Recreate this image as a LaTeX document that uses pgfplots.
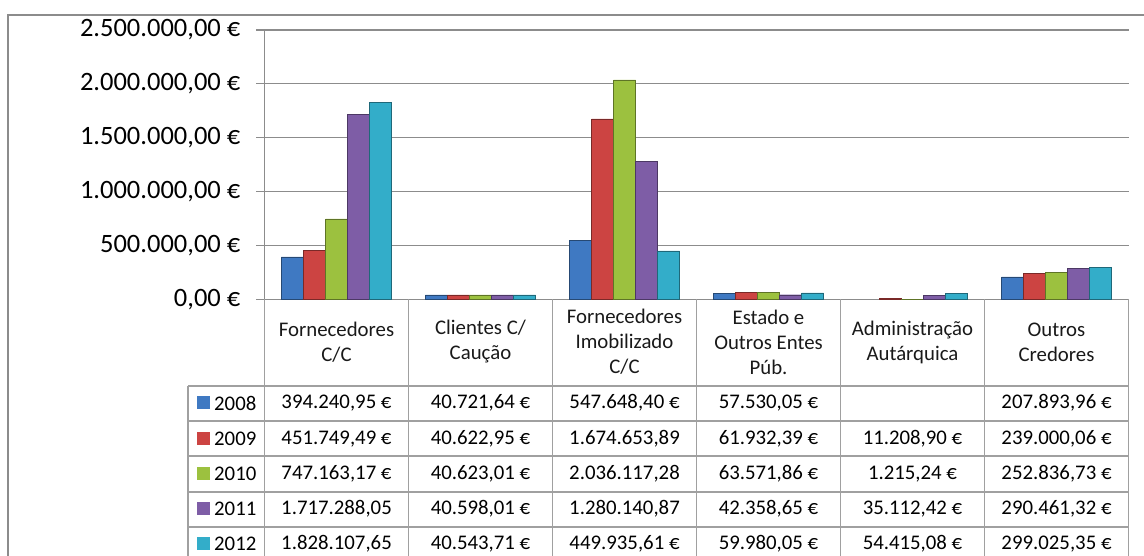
\documentclass[border=0pt]{standalone}
\usepackage{pgfplots}
\pgfplotsset{compat=1.18}
\usepackage{fontspec}
\setmainfont{Carlito}
\definecolor{c08}{HTML}{3F79C2}
\definecolor{c09}{HTML}{CC4442}
\definecolor{c10}{HTML}{9CC13F}
\definecolor{c11}{HTML}{7E5DA6}
\definecolor{c12}{HTML}{33ADC9}
\definecolor{gridc}{HTML}{8C8C8C}
\definecolor{tabc}{HTML}{A0A0A0}
\newcommand\tabfont{\fontsize{20.8}{25}\selectfont}
% y in image coordinates -> tikz
\newcommand\Y[1]{\the\numexpr556-#1\relax pt}
\begin{document}
\begin{tikzpicture}[x=1pt,y=1pt]
\path[use as bounding box] (0,0) rectangle (1144,556);
% outer frame (left and top visible)
\draw[gridc, line width=1.3pt] (8,-5) -- (8,541) -- (1150,541);
\begin{axis}[
  at={(264.5pt,256.7pt)}, anchor=south west,
  scale only axis, width=864pt, height=269.3pt,
  xmin=-0.5, xmax=5.5, ymin=0, ymax=2500000,
  ybar=0pt, bar width=22pt,
  axis x line*=bottom, axis y line*=left,
  axis line style={gridc, line width=1.2pt, -},
  xtick=\empty,
  scaled y ticks=false,
  ytick={0,500000,1000000,1500000,2000000,2500000},
  yticklabels={{0,00 €},{500.000,00 €},{1.000.000,00 €},{1.500.000,00 €},{2.000.000,00 €},{2.500.000,00 €}},
  yticklabel style={font=\fontsize{26.5}{30}\selectfont, anchor=east, inner sep=0pt, xshift=-16pt},
  tick align=outside, major tick length=8pt,
  tick style={gridc, line width=1.2pt},
  ymajorgrids, grid style={gridc, line width=1.2pt},
  clip=false,
]
\addplot[fill=c08, draw=c08!60!black] coordinates {(0,394240.95) (1,40721.64) (2,547648.40) (3,57530.05) (5,207893.96)};
\addplot[fill=c09, draw=c09!60!black] coordinates {(0,451749.49) (1,40622.95) (2,1674653.89) (3,61932.39) (4,11208.90) (5,239000.06)};
\addplot[fill=c10, draw=c10!60!black] coordinates {(0,747163.17) (1,40623.01) (2,2036117.28) (3,63571.86) (4,1215.24) (5,252836.73)};
\addplot[fill=c11, draw=c11!60!black] coordinates {(0,1717288.05) (1,40598.01) (2,1280140.87) (3,42358.65) (4,35112.42) (5,290461.32)};
\addplot[fill=c12, draw=c12!60!black] coordinates {(0,1828107.65) (1,40543.71) (2,449935.61) (3,59980.05) (4,54415.08) (5,299025.35)};
\end{axis}
% data table grid
\begin{scope}[tabc, line width=1.3pt]
\foreach \k in {0,...,6} {\draw (264.5+144*\k, 257) -- (264.5+144*\k, -5);}
\draw (188,\Y{386}) -- (188,-5);
\foreach \yy in {386,421,456,492,527} {\draw (188,\Y{\yy}) -- (1128.5,\Y{\yy});}
\end{scope}
% header
\begin{scope}[font=\tabfont, align=center, text=black!90]
\node at (336.5,\Y{342}) {Fornecedores\\C/C};
\node at (480.5,\Y{342}) {Clientes C/\\Caução};
\node at (624.5,\Y{342}) {Fornecedores\\Imobilizado\\C/C};
\node at (768.5,\Y{342}) {Estado e\\Outros Entes\\Púb.};
\node at (912.5,\Y{342}) {Administração\\Autárquica};
\node at (1056.5,\Y{342}) {Outros\\Credores};
\end{scope}
\newcommand\tabrow[9]{%
  \fill[#2] (197,\Y{#1}-6.5) rectangle (210,\Y{#1}+6.5);
  \node[font=\tabfont, anchor=west, inner sep=0pt] at (214,\Y{#1}) {#3};
  \node[font=\tabfont] at (336.5,\Y{#1}) {#4};
  \node[font=\tabfont] at (480.5,\Y{#1}) {#5};
  \node[font=\tabfont] at (624.5,\Y{#1}) {#6};
  \node[font=\tabfont] at (768.5,\Y{#1}) {#7};
  \node[font=\tabfont] at (912.5,\Y{#1}) {#8};
  \node[font=\tabfont] at (1056.5,\Y{#1}) {#9};
}
\tabrow{403}{c08}{2008}{394.240,95 €}{40.721,64 €}{547.648,40 €}{57.530,05 €}{}{207.893,96 €}
\tabrow{439}{c09}{2009}{451.749,49 €}{40.622,95 €}{1.674.653,89}{61.932,39 €}{11.208,90 €}{239.000,06 €}
\tabrow{474}{c10}{2010}{747.163,17 €}{40.623,01 €}{2.036.117,28}{63.571,86 €}{1.215,24 €}{252.836,73 €}
\tabrow{509}{c11}{2011}{1.717.288,05}{40.598,01 €}{1.280.140,87}{42.358,65 €}{35.112,42 €}{290.461,32 €}
\tabrow{544}{c12}{2012}{1.828.107,65}{40.543,71 €}{449.935,61 €}{59.980,05 €}{54.415,08 €}{299.025,35 €}
\end{tikzpicture}
\end{document}
